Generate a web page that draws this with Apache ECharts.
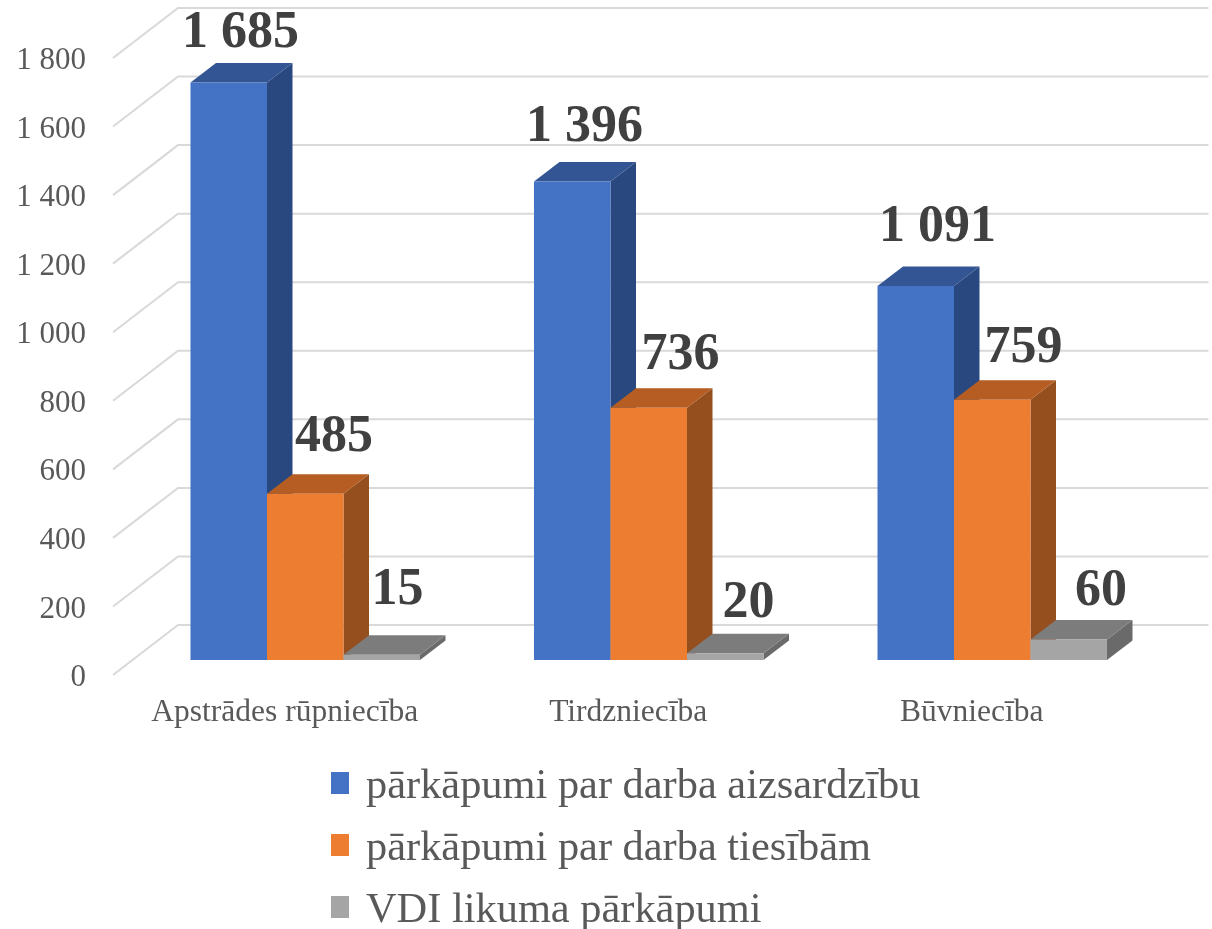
<!DOCTYPE html>
<html>
<head>
<meta charset="utf-8">
<title>VDI</title>
<script src="https://cdn.jsdelivr.net/npm/echarts@6/dist/echarts.min.js"></script>
<style>
  html, body { margin: 0; padding: 0; background: #fff; }
  #chart { width: 1212px; height: 929px; }
</style>
</head>
<body>
<div id="chart"></div>
<script>
const categories = ['Apstrādes rūpniecība', 'Tirdzniecība', 'Būvniecība'];
const seriesNames = ['pārkāpumi par darba aizsardzību', 'pārkāpumi par darba tiesībām', 'VDI likuma pārkāpumi'];
const aizsardziba = [1685, 1396, 1091];
const tiesibas = [485, 736, 759];
const vdiLikums = [15, 20, 60];
const yTicks = [0, 200, 400, 600, 800, 1000, 1200, 1400, 1600, 1800];

// front, top, side
const faceColors = [
  ['#4472c4', '#335593', '#2a4880'],
  ['#ed7d31', '#b55d22', '#954f1e'],
  ['#a5a5a5', '#7c7c7c', '#6a6a6a'],
];
// hand placed labels in the original, offset from the centre of the bar's top back edge
const labelNudge = [
  [[-1, -29], [-0.5, -34], [9, -39]],
  [[16, -37], [19, -33], [18.5, -32]],
  [[3, -45], [10.5, -30], [19.5, -28]],
];
const FONT = '"Liberation Serif", "Times New Roman", serif';
const WALL = [65, -50]; // side wall depth of the 3d box
const FRONT = [20.5, -15]; // where the bars' front faces stand
const BAR = [25.5, -19.5]; // depth of one bar
const BAR_SHARE = 0.2227; // bar width / category width

const spaced = (v) => String(v).replace(/\B(?=(\d{3})+$)/g, ' ');

function renderGrid(params, api) {
  const box = params.coordSys;
  const y = api.coord([0, api.value(1)])[1];
  const left = box.x;
  const backX = left + WALL[0];
  const backY = y + WALL[1];
  return {
    type: 'polyline',
    shape: { points: [[left, y], [backX, backY], [box.x + box.width + WALL[0], backY]] },
    style: { stroke: '#d9d9d9', lineWidth: 2, fill: null },
    silent: true,
  };
}

function renderBar(params, api) {
  const s = params.seriesIndex - 1;
  const i = params.dataIndex;
  const cat = api.value(0);
  const val = api.value(1);
  const w = api.size([1, 0])[0] * BAR_SHARE;
  const top = api.coord([cat, val]);
  const base = api.coord([cat, 0]);
  const x0 = top[0] - 1.5 * w + s * w + FRONT[0];
  const x1 = x0 + w;
  const y0 = base[1] + FRONT[1];
  const y1 = top[1] + FRONT[1];
  const dx = BAR[0];
  const dy = BAR[1];
  const c = faceColors[s];
  const nudge = labelNudge[s][i];
  return {
    type: 'group',
    children: [
      { type: 'polygon', shape: { points: [[x1, y0], [x1 + dx, y0 + dy], [x1 + dx, y1 + dy], [x1, y1]] }, style: { fill: c[2] } },
      { type: 'polygon', shape: { points: [[x0, y1], [x1, y1], [x1 + dx, y1 + dy], [x0 + dx, y1 + dy]] }, style: { fill: c[1] } },
      { type: 'rect', shape: { x: x0, y: y1, width: w, height: y0 - y1 }, style: { fill: c[0] } },
      {
        type: 'text',
        x: (x0 + x1 + dx) / 2 + nudge[0],
        y: y1 + dy + nudge[1],
        style: {
          text: spaced(val),
          font: 'bold 52px ' + FONT,
          fill: '#404040',
          align: 'center',
          verticalAlign: 'middle',
        },
      },
    ],
  };
}

const barSeries = [aizsardziba, tiesibas, vdiLikums].map((values, s) => ({
  name: seriesNames[s],
  type: 'custom',
  renderItem: renderBar,
  itemStyle: { color: faceColors[s][0] },
  encode: { x: 0, y: 1 },
  data: values.map((v, i) => [i, v]),
  z: 3 + s,
}));

const chart = echarts.init(document.getElementById('chart'));
chart.setOption({
  animation: false,
  backgroundColor: '#fff',
  textStyle: { fontFamily: FONT },
  grid: { left: 113, top: 58, width: 1030.5, height: 617, containLabel: false },
  xAxis: {
    type: 'category',
    data: categories,
    axisLine: { show: false },
    axisTick: { show: false },
    axisLabel: { color: '#595959', fontFamily: FONT, fontSize: 31.5, margin: 22, interval: 0, hideOverlap: false },
  },
  yAxis: {
    type: 'value',
    min: 0,
    max: 1800,
    interval: 200,
    axisLine: { show: false },
    axisTick: { show: false },
    splitLine: { show: false },
    axisLabel: {
      margin: 27,
      formatter: (v) => `{t|${spaced(v)}}`,
      rich: { t: { color: '#595959', fontFamily: FONT, fontSize: 31, padding: [6, 0, 0, 0] } },
    },
  },
  legend: {
    data: seriesNames,
    orient: 'vertical',
    left: 331,
    top: 766,
    padding: 0,
    height: 200,
    icon: 'rect',
    itemWidth: 18,
    itemHeight: 22,
    itemGap: 20,
    formatter: (name) => `{t|${name}}`,
    textStyle: {
      rich: { t: { color: '#595959', fontFamily: FONT, fontSize: 42.4, padding: [8, 0, 0, 12] } },
    },
    selectedMode: false,
  },
  series: [
    {
      type: 'custom',
      renderItem: renderGrid,
      encode: { x: 0, y: 1 },
      data: yTicks.map((v) => [0, v]),
      silent: true,
      z: 1,
    },
    ...barSeries,
  ],
});
</script>
</body>
</html>
